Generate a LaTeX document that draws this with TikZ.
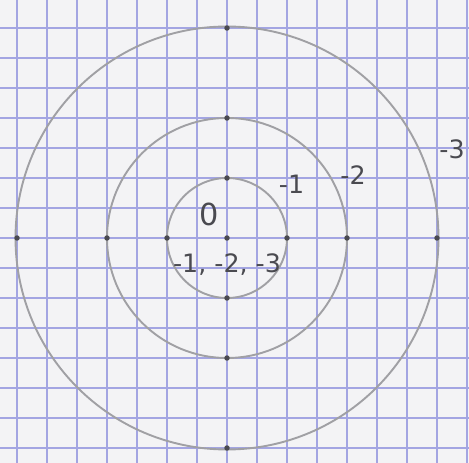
\documentclass[tikz,border=0pt]{standalone}
\usepackage{fontspec}
\setmainfont{DejaVu Sans}
\definecolor{paper}{HTML}{F3F3F5}
\definecolor{gridblue}{HTML}{A3A5E2}
\definecolor{pencil}{HTML}{A0A0A4}
\definecolor{lead}{HTML}{4A4A50}
\tikzset{
  ring/.style={draw=pencil,line width=0.9pt},
  pt/.style={circle,fill=lead,inner sep=0pt,minimum size=2.6pt},
  lbl/.style={text=lead,font=\large}
}
\begin{document}
\begin{tikzpicture}[x=0.5cm,y=0.5cm]
\fill[paper] (-7.567,-7.5) rectangle (8.067,7.933);
\useasboundingbox (-7.567,-7.5) rectangle (8.067,7.933);
\draw[gridblue,line width=0.5pt,step=0.5cm] (-7.567,-7.5) grid (8.067,7.933);
\coordinate (O) at (0,0);
\draw[ring] (O) circle (2);
\draw[ring] (O) circle (4);
\draw[ring] (O) circle (7.05);
\node[pt] (c) at (O) {};
\foreach \r/\n in {2/a,4/b,7/c}{
  \node[pt] (\n e) at (\r,0) {};
  \node[pt] (\n w) at (-\r,0) {};
  \node[pt] (\n n) at (0,\r) {};
  \node[pt] (\n s) at (0,-\r) {};
}
\node[lbl,font=\Large] (zero) at (-0.6,0.8) {0};
\node[lbl] (inner) at (0,-0.9) {-1, -2, -3};
\node[lbl] (one) at (2.15,1.8) {-1};
\node[lbl] (two) at (4.2,2.1) {-2};
\node[lbl] (three) at (7.5,2.95) {-3};
\end{tikzpicture}
\end{document}
